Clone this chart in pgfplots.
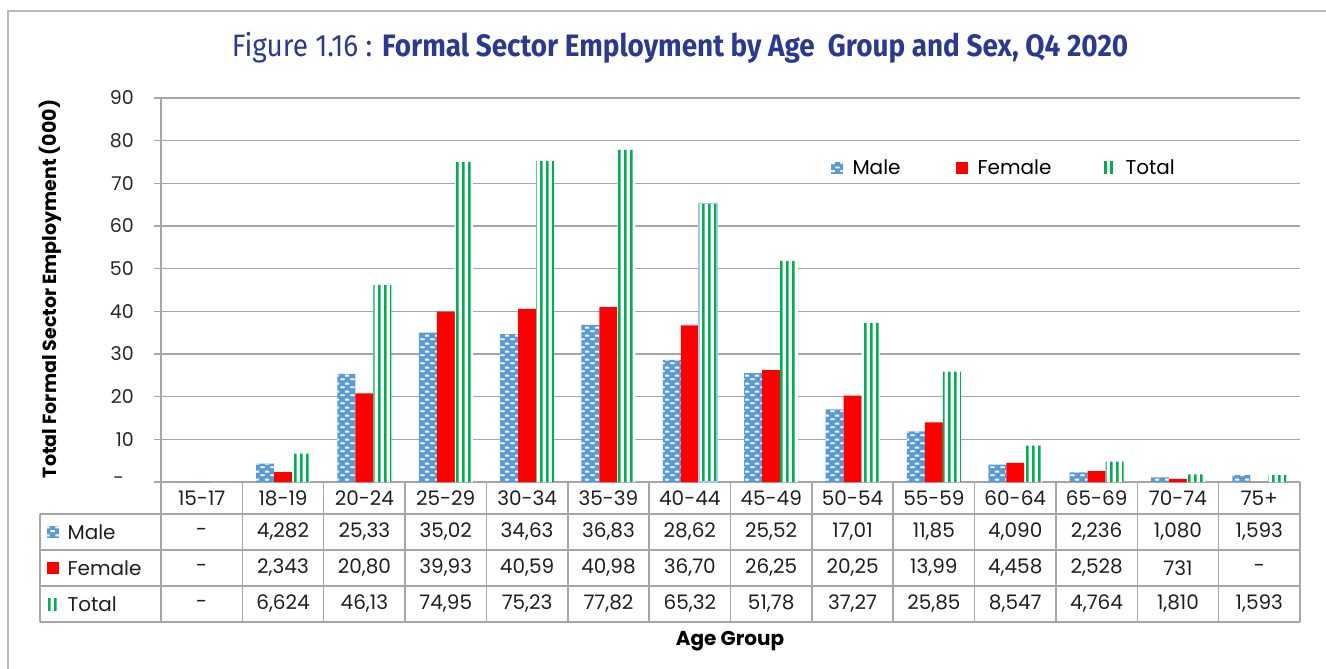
\documentclass[border=0pt]{standalone}
\usepackage{pgfplots}
\pgfplotsset{compat=1.18}
\usepackage{fontspec}
\setmainfont{Poppins}
\newfontfamily\titlefont[FakeStretch=0.9]{Fira Sans}
\usetikzlibrary{patterns.meta}
\definecolor{malecol}{RGB}{91,155,213}
\definecolor{femalecol}{RGB}{255,0,0}
\definecolor{totalcol}{RGB}{0,176,80}
\definecolor{gridcol}{RGB}{166,166,166}
\definecolor{titlecol}{RGB}{43,57,144}
\pgfdeclarepattern{
  name=maledash, type=uncolored,
  bottom left={\pgfpoint{0pt}{0pt}}, top right={\pgfpoint{10pt}{8pt}},
  tile size={\pgfpoint{10pt}{8pt}},
  code={
    \pgfpathrectangle{\pgfpoint{0.5pt}{1pt}}{\pgfpoint{4.5pt}{2pt}}
    \pgfpathrectangle{\pgfpoint{5.5pt}{5pt}}{\pgfpoint{4.5pt}{2pt}}
    \pgfusepath{fill}
  }
}
\pgfdeclarepattern{
  name=vstripes, type=uncolored,
  bottom left={\pgfpoint{0pt}{0pt}}, top right={\pgfpoint{6pt}{60pt}},
  tile size={\pgfpoint{6pt}{60pt}},
  code={
    \pgfpathrectangle{\pgfpoint{0pt}{0pt}}{\pgfpoint{3pt}{60pt}}
    \pgfusepath{fill}
  }
}
\pgfplotsset{
  sqlegend/.style={legend image code/.code={\draw[##1,draw=none] (0pt,-6pt) rectangle (12pt,6pt);}}
}
\begin{document}
\begin{tikzpicture}[x=1pt,y=-1pt]
\useasboundingbox (0,0) rectangle (1326,669);
\draw[gray!55, line width=1.5pt] (8,669) -- (8,11) -- (1326,11);
\node[text=titlecol, font=\titlefont\fontsize{31}{36}\selectfont] at (680,48)
  {Figure 1.16 : \textbf{Formal Sector Employment by Age\ \ Group and Sex, Q4 2020}};
\begin{axis}[
  at={(161pt,-482pt)}, anchor=south west,
  scale only axis, width=1139pt, height=384pt,
  xmin=-0.5, xmax=13.5, ymin=0, ymax=90,
  ybar, bar width=18pt,
  axis line style={draw=none},
  xtick=\empty,
  ytick={0,10,20,30,40,50,60,70,80,90},
  yticklabels={},
  ytick pos=left, tick align=outside, major tick length=7pt,
  ytick style={draw=gridcol, line width=1.5pt},
  ymajorgrids, grid style={draw=gridcol, line width=1.5pt},
  legend style={at={(0.585,0.818)}, anchor=west, draw=none, fill=none,
    font=\fontsize{20}{24}\selectfont, legend columns=3,
    /tikz/every odd column/.append style={column sep=8pt}},
]
\addplot[sqlegend, fill=malecol, draw=none, bar shift=-18pt,
  postaction={pattern=maledash, pattern color=white}]
  coordinates {(0,0) (1,4.282) (2,25.33) (3,35.02) (4,34.63) (5,36.83) (6,28.62)
   (7,25.52) (8,17.01) (9,11.85) (10,4.090) (11,2.236) (12,1.080) (13,1.593)};
\addlegendentry{\makebox[101pt][l]{Male}}
\addplot[sqlegend, fill=femalecol, draw=none, bar shift=0pt]
  coordinates {(0,0) (1,2.343) (2,20.80) (3,39.93) (4,40.59) (5,40.98) (6,36.70)
   (7,26.25) (8,20.25) (9,13.99) (10,4.458) (11,2.528) (12,0.731) (13,0)};
\addlegendentry{\makebox[124pt][l]{Female}}
\addplot[sqlegend, fill=white, draw=none, bar shift=18pt,
  postaction={pattern=vstripes, pattern color=totalcol}]
  coordinates {(0,0) (1,6.624) (2,46.13) (3,74.95) (4,75.23) (5,77.82) (6,65.32)
   (7,51.78) (8,37.27) (9,25.85) (10,8.547) (11,4.764) (12,1.810) (13,1.593)};
\addlegendentry{Total}
\addplot[forget plot, fill=none, draw=malecol!55, line width=1.5pt, bar shift=18pt]
  coordinates {(6,65.32)};
\end{axis}
% y tick labels (accounting format: zero shown as a dash)
\foreach \yv in {10,20,30,40,50,60,70,80,90}
  \node[anchor=east, font=\fontsize{19}{22}\selectfont, text=black!85, inner sep=0pt]
    at (134,{482-4.266667*\yv}) {\yv};
\node[anchor=east, font=\fontsize{19}{22}\selectfont, text=black!85, inner sep=0pt] at (124,481) {-};
% data table
\foreach \yy in {514,550,586,622} \draw[gridcol, line width=1.5pt] (40,\yy) -- (1300,\yy);
\draw[gridcol, line width=1.5pt] (40,514) -- (40,622);
\draw[gridcol, line width=1.5pt] (161,98) -- (161,622);
\foreach \k in {1,...,14} \draw[gridcol, line width=1.5pt] ({161+\k*81.357},482) -- ({161+\k*81.357},622);
\begin{scope}[every node/.style={font=\fontsize{20}{24}\selectfont, text=black!88}]
\foreach \lab [count=\i from 0] in {15-17,18-19,20-24,25-29,30-34,35-39,40-44,45-49,50-54,55-59,60-64,65-69,70-74,75+}
  \node at ({161+(\i+0.5)*81.357},498) {\lab};
\foreach \v [count=\i from 0] in {-,{4,282},{25,33},{35,02},{34,63},{36,83},{28,62},{25,52},{17,01},{11,85},{4,090},{2,236},{1,080},{1,593}}
  \node at ({161+(\i+0.5)*81.357},532) {\v};
\foreach \v [count=\i from 0] in {-,{2,343},{20,80},{39,93},{40,59},{40,98},{36,70},{26,25},{20,25},{13,99},{4,458},{2,528},731,-}
  \node at ({161+(\i+0.5)*81.357},568) {\v};
\foreach \v [count=\i from 0] in {-,{6,624},{46,13},{74,95},{75,23},{77,82},{65,32},{51,78},{37,27},{25,85},{8,547},{4,764},{1,810},{1,593}}
  \node at ({161+(\i+0.5)*81.357},604) {\v};
\node[anchor=west] at (64,532) {Male};
\node[anchor=west] at (64,568) {Female};
\node[anchor=west] at (64,604) {Total};
\end{scope}
\fill[malecol] (47,526) rectangle (59,538);
\fill[pattern=maledash, pattern color=white] (47,526) rectangle (59,538);
\fill[femalecol] (47,562) rectangle (59,574);
\fill[pattern=vstripes, pattern color=totalcol] (47,598) rectangle (59,610);
\node[rotate=90, font=\bfseries\fontsize{19}{22}\selectfont] at (50,289) {Total Formal Sector Employment (000)};
\node[font=\bfseries\fontsize{20}{24}\selectfont] at (730,641) {Age Group};
\end{tikzpicture}
\end{document}
